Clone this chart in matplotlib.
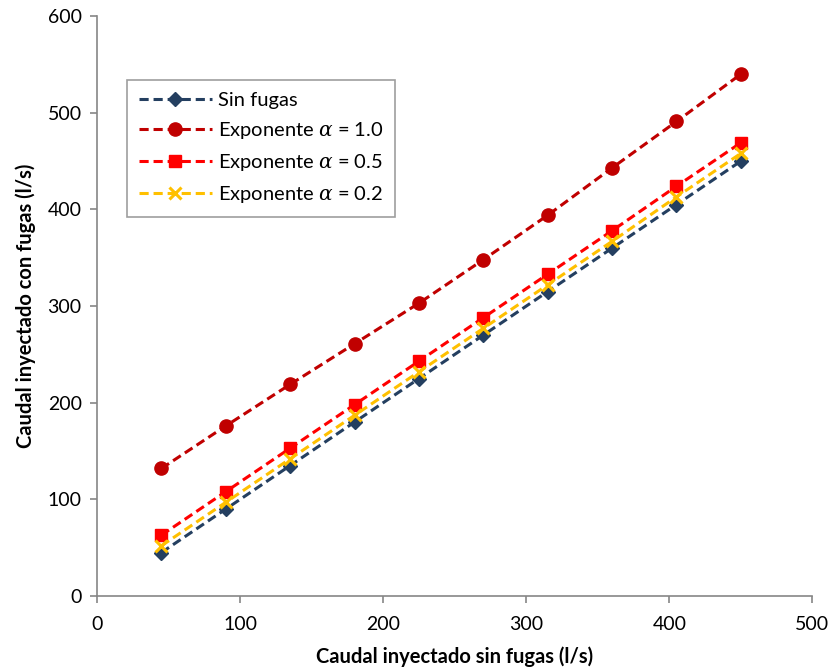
import matplotlib
matplotlib.use('Agg')
import matplotlib.pyplot as plt

plt.rcParams['font.family'] = ['Lato', 'DejaVu Sans']
plt.rcParams['mathtext.fontset'] = 'dejavuserif'

# data
caudal_sin = [45, 90, 135, 180, 225, 270, 315, 360, 405, 450]
sin_fugas = [45, 90, 135, 180, 225, 270, 315, 360, 405, 450]
exp_10 = [132, 176, 219, 261, 303, 348, 394, 443, 491, 540]
exp_05 = [63, 108, 153, 198, 243, 288, 333, 378, 424, 469]
exp_02 = [52, 97, 142, 187, 232, 277, 322, 367, 413, 458]

fig = plt.figure(figsize=(8.29, 6.72), dpi=100)
ax = fig.add_axes([0.117, 0.113, 0.863, 0.863])

dash = (3, 1.6)
ax.plot(caudal_sin, sin_fugas, color='#243F60', ls='--', dashes=dash, lw=2.2,
        marker='D', ms=7, label='Sin fugas')
ax.plot(caudal_sin, exp_10, color='#C00000', ls='--', dashes=dash, lw=2.2,
        marker='o', ms=9.5, label=r'Exponente $\alpha$ = 1.0')
ax.plot(caudal_sin, exp_05, color='#FF0000', ls='--', dashes=dash, lw=2.2,
        marker='s', ms=8.5, label=r'Exponente $\alpha$ = 0.5')
ax.plot(caudal_sin, exp_02, color='#FFC000', ls='--', dashes=dash, lw=2.2,
        marker='x', ms=8, mew=2.2, label=r'Exponente $\alpha$ = 0.2')

ax.set_xlim(0, 500)
ax.set_ylim(0, 600)
ax.set_xticks(range(0, 501, 100))
ax.set_yticks(range(0, 601, 100))
for s in ['top', 'right']:
    ax.spines[s].set_visible(False)
for s in ['left', 'bottom']:
    ax.spines[s].set_color('#868686')
    ax.spines[s].set_linewidth(1.2)
ax.tick_params(direction='out', length=5, color='#868686', width=1.2, labelsize=14)
ax.tick_params(axis='x', pad=9)
ax.tick_params(axis='y', pad=6)

ax.set_xlabel('Caudal inyectado sin fugas (l/s)', fontsize=14.5, fontweight='bold', labelpad=10)
ax.set_ylabel('Caudal inyectado con fugas (l/s)', fontsize=14.5, fontweight='bold', labelpad=8)

leg = ax.legend(loc='upper left', bbox_to_anchor=(0.042, 0.89), borderaxespad=0,
                fancybox=False, edgecolor='#868686', fontsize=14.5,
                handlelength=3.6, borderpad=0.6, labelspacing=0.55, handletextpad=0.3)
leg.get_frame().set_linewidth(1.2)

fig.savefig('out.png', dpi=100)
